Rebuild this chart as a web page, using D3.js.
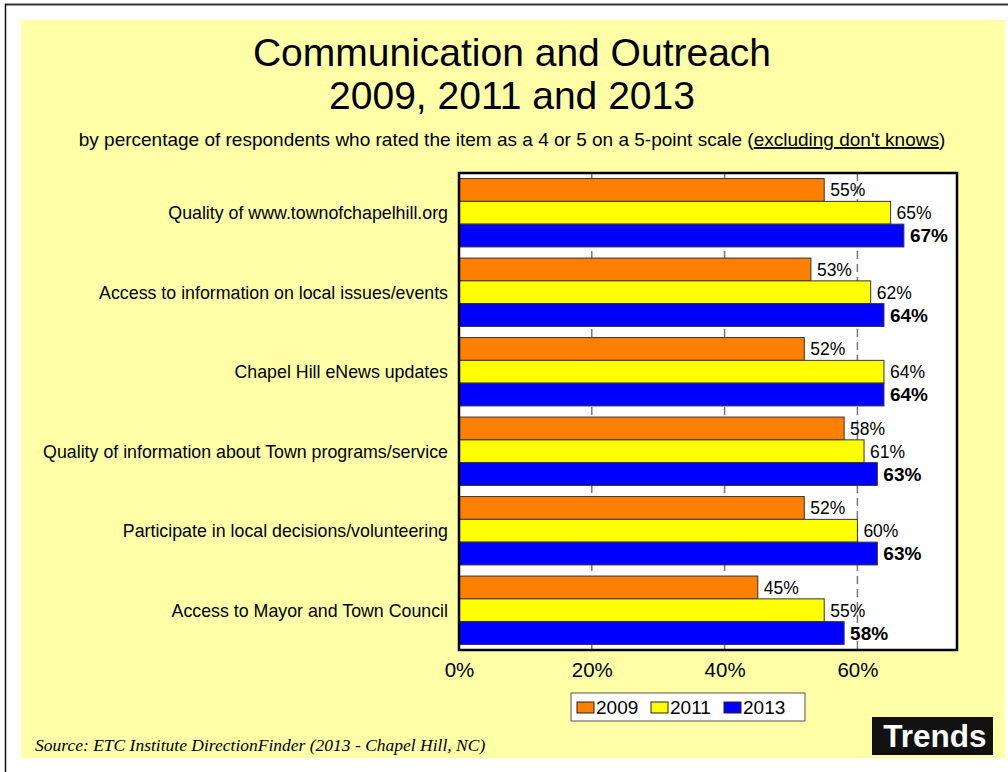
<!DOCTYPE html>
<html>
<head>
<meta charset="utf-8">
<script src="https://cdn.jsdelivr.net/npm/d3@7"></script>
<style>
  html, body { margin: 0; padding: 0; background: #fff; }
  svg { display: block; }
</style>
</head>
<body>
<svg id="chart" width="1008" height="772"></svg>
<script>
// Survey items, top to bottom
const categories = [
  "Quality of www.townofchapelhill.org",
  "Access to information on local issues/events",
  "Chapel Hill eNews updates",
  "Quality of information about Town programs/service",
  "Participate in local decisions/volunteering",
  "Access to Mayor and Town Council"
];
const years = ["2009", "2011", "2013"];
const values2009 = [55, 53, 52, 58, 52, 45];
const values2011 = [65, 62, 64, 61, 60, 55];
const values2013 = [67, 64, 64, 63, 63, 58];
const tickValues = [0, 20, 40, 60];
const colors = ["#FF8000", "#FFFF00", "#0000FF"];

const series = [values2009, values2011, values2013];

const svg = d3.select("#chart");

// page frame
svg.append("line").attr("x1", 5).attr("x2", 1008).attr("y1", 4.5).attr("y2", 4.5)
  .attr("stroke", "#333").attr("stroke-width", 2);
svg.append("line").attr("x1", 5.5).attr("x2", 5.5).attr("y1", 4).attr("y2", 772)
  .attr("stroke", "#111").attr("stroke-width", 1.5);

// yellow panel
svg.append("rect").attr("x", 21).attr("y", 20).attr("width", 984).attr("height", 738)
  .attr("fill", "#FFFFA8");

const font = "Arial, 'Liberation Sans', sans-serif";

// titles
svg.append("text").attr("x", 512).attr("y", 66).attr("text-anchor", "middle")
  .attr("font-family", font).attr("font-size", 39).text("Communication and Outreach");
svg.append("text").attr("x", 512).attr("y", 109).attr("text-anchor", "middle")
  .attr("font-family", font).attr("font-size", 39).text("2009, 2011 and 2013");

const sub = svg.append("text").attr("x", 512).attr("y", 146).attr("text-anchor", "middle")
  .attr("font-family", font).attr("font-size", 19);
sub.append("tspan").text("by percentage of respondents who rated the item as a 4 or 5 on a 5-point scale (");
sub.append("tspan").attr("text-decoration", "underline").text("excluding don't knows");
sub.append("tspan").text(")");

// plot area
const plot = { left: 459, right: 957, top: 173, bottom: 650 };

const x = d3.scaleLinear().domain([0, 75]).range([plot.left, plot.right]);
const y = d3.scaleBand().domain(categories).range([plot.top, plot.bottom])
  .paddingInner(0.14).paddingOuter(0.07);
const yInner = d3.scaleBand().domain(years).range([0, y.bandwidth()]);

svg.append("rect").attr("x", plot.left).attr("y", plot.top)
  .attr("width", plot.right - plot.left).attr("height", plot.bottom - plot.top)
  .attr("fill", "#fff");

// gridlines
svg.append("g").selectAll("line").data(tickValues.filter(d => d > 0)).join("line")
  .attr("x1", d => x(d)).attr("x2", d => x(d))
  .attr("y1", plot.top).attr("y2", plot.bottom)
  .attr("stroke", "#777").attr("stroke-width", 1.5).attr("stroke-dasharray", "8,5");

// bars and value labels
const groups = svg.append("g").selectAll("g").data(categories).join("g")
  .attr("transform", d => `translate(0,${y(d)})`);

groups.each(function(cat, ci) {
  const g = d3.select(this);
  years.forEach((yr, si) => {
    const v = series[si][ci];
    const bold = si === 2;
    const size = bold ? 19 : 17.5;
    g.append("rect")
      .attr("x", x(0)).attr("y", yInner(yr))
      .attr("width", x(v) - x(0)).attr("height", yInner.bandwidth())
      .attr("fill", colors[si]).attr("stroke", "#333").attr("stroke-width", 1);
    g.append("text")
      .attr("x", x(v) + 6)
      .attr("y", yInner(yr) + yInner.bandwidth() / 2 + size * 0.36)
      .attr("font-family", font)
      .attr("font-size", size)
      .attr("font-weight", bold ? "bold" : "normal")
      .text(v + "%");
  });
});

// category labels
const catSize = 17.8;
svg.append("g").selectAll("text").data(categories).join("text")
  .attr("x", 448).attr("y", d => y(d) + y.bandwidth() / 2 + catSize * 0.36)
  .attr("text-anchor", "end")
  .attr("font-family", font).attr("font-size", catSize).text(d => d);

// plot border
svg.append("rect").attr("x", plot.left).attr("y", plot.top)
  .attr("width", plot.right - plot.left).attr("height", plot.bottom - plot.top)
  .attr("fill", "none").attr("stroke", "#000").attr("stroke-width", 2.5);

// x axis
const xAxis = d3.axisBottom(x).tickValues(tickValues).tickFormat(d => d + "%").tickSize(0).tickPadding(12);
const ax = svg.append("g").attr("transform", `translate(0,${plot.bottom})`).call(xAxis);
ax.select(".domain").remove();
ax.selectAll("text").attr("font-family", font).attr("font-size", 20.5).attr("fill", "#000");

// legend
const legend = svg.append("g").attr("transform", "translate(571,693)");
legend.append("rect").attr("width", 234).attr("height", 28)
  .attr("fill", "#fff").attr("stroke", "#555").attr("stroke-width", 1);
const legX = [6, 80, 153];
years.forEach((yr, i) => {
  legend.append("rect").attr("x", legX[i]).attr("y", 9).attr("width", 17).attr("height", 11)
    .attr("fill", colors[i]).attr("stroke", "#222").attr("stroke-width", 1);
  legend.append("text").attr("x", legX[i] + 19).attr("y", 21)
    .attr("font-family", font).attr("font-size", 19).text(yr);
});

// source note
svg.append("text").attr("x", 35).attr("y", 751)
  .attr("font-family", "'Liberation Serif', 'Times New Roman', serif")
  .attr("font-style", "italic").attr("font-size", 17.5)
  .text("Source:  ETC Institute DirectionFinder (2013 - Chapel Hill, NC)");

// badge
svg.append("rect").attr("x", 872).attr("y", 717).attr("width", 121).attr("height", 38).attr("fill", "#111");
svg.append("text").attr("x", 935).attr("y", 747).attr("text-anchor", "middle")
  .attr("font-family", font).attr("font-weight", "bold").attr("font-size", 31.5)
  .attr("fill", "#fff").text("Trends");
</script>
</body>
</html>
